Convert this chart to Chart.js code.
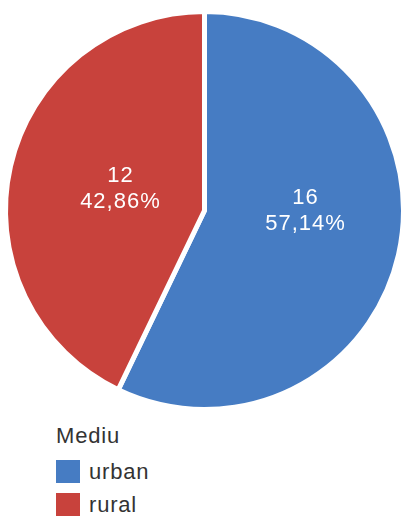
<!DOCTYPE html>
<html>
<head>
<meta charset="utf-8">
<script src="https://cdn.jsdelivr.net/npm/chart.js@4/dist/chart.umd.min.js"></script>
<style>
  html, body { margin: 0; padding: 0; background: #fff; }
  body { width: 402px; height: 516px; position: relative; overflow: hidden; font-family: "Liberation Sans", Arial, sans-serif; }
  #wrap { position: absolute; left: 0; top: 0; width: 406px; height: 422px; }
  #legend { position: absolute; left: 56px; top: 423px; color: #333; font-size: 22px; letter-spacing: 0.8px; }
  #legend .title { margin-bottom: 6px; line-height: 26px; }
  #legend .item { display: flex; align-items: center; height: 33px; }
  #legend .box { width: 24px; height: 23px; margin-right: 9px; }
</style>
</head>
<body>
<div id="wrap"><canvas id="c"></canvas></div>
<div id="legend"></div>
<script>
const legendTitle = "Mediu";
const categories = ["urban", "rural"];
const values = [16, 12];
const percentLabels = ["57,14%", "42,86%"];
const colors = ["#467cc3", "#c8423c"];
const labelNudge = [[6, -21], [11, 0]];

const labelPlugin = {
  id: 'sliceLabels',
  afterDatasetsDraw(chart) {
    const ctx = chart.ctx;
    const meta = chart.getDatasetMeta(0);
    ctx.save();
    ctx.fillStyle = '#ffffff';
    ctx.font = '22px "Liberation Sans", Arial, sans-serif';
    if ('letterSpacing' in ctx) ctx.letterSpacing = '1px';
    ctx.textAlign = 'center';
    ctx.textBaseline = 'middle';
    meta.data.forEach((arc, i) => {
      const p = arc.getProps(['x', 'y', 'startAngle', 'endAngle', 'outerRadius'], true);
      const mid = (p.startAngle + p.endAngle) / 2;
      const r = p.outerRadius * 0.49;
      const x = p.x + Math.cos(mid) * r + labelNudge[i][0];
      const y = p.y + Math.sin(mid) * r + labelNudge[i][1];
      ctx.fillText(String(values[i]), x, y - 13);
      ctx.fillText(percentLabels[i], x, y + 13);
    });
    ctx.restore();
  }
};

new Chart(document.getElementById('c'), {
  type: 'pie',
  data: {
    labels: categories,
    datasets: [{
      data: values,
      backgroundColor: colors,
      borderColor: '#ffffff',
      borderWidth: 5,
      hoverOffset: 0
    }]
  },
  options: {
    responsive: true,
    maintainAspectRatio: false,
    animation: false,
    layout: { padding: { left: 3, right: 0, top: 9, bottom: 10 } },
    plugins: {
      legend: { display: false },
      tooltip: { enabled: false }
    }
  },
  plugins: [labelPlugin]
});

const lg = document.getElementById('legend');
const t = document.createElement('div');
t.className = 'title';
t.textContent = legendTitle;
lg.appendChild(t);
categories.forEach((c, i) => {
  const it = document.createElement('div');
  it.className = 'item';
  const b = document.createElement('span');
  b.className = 'box';
  b.style.background = colors[i];
  const s = document.createElement('span');
  s.textContent = c;
  it.appendChild(b);
  it.appendChild(s);
  lg.appendChild(it);
});
</script>
</body>
</html>
